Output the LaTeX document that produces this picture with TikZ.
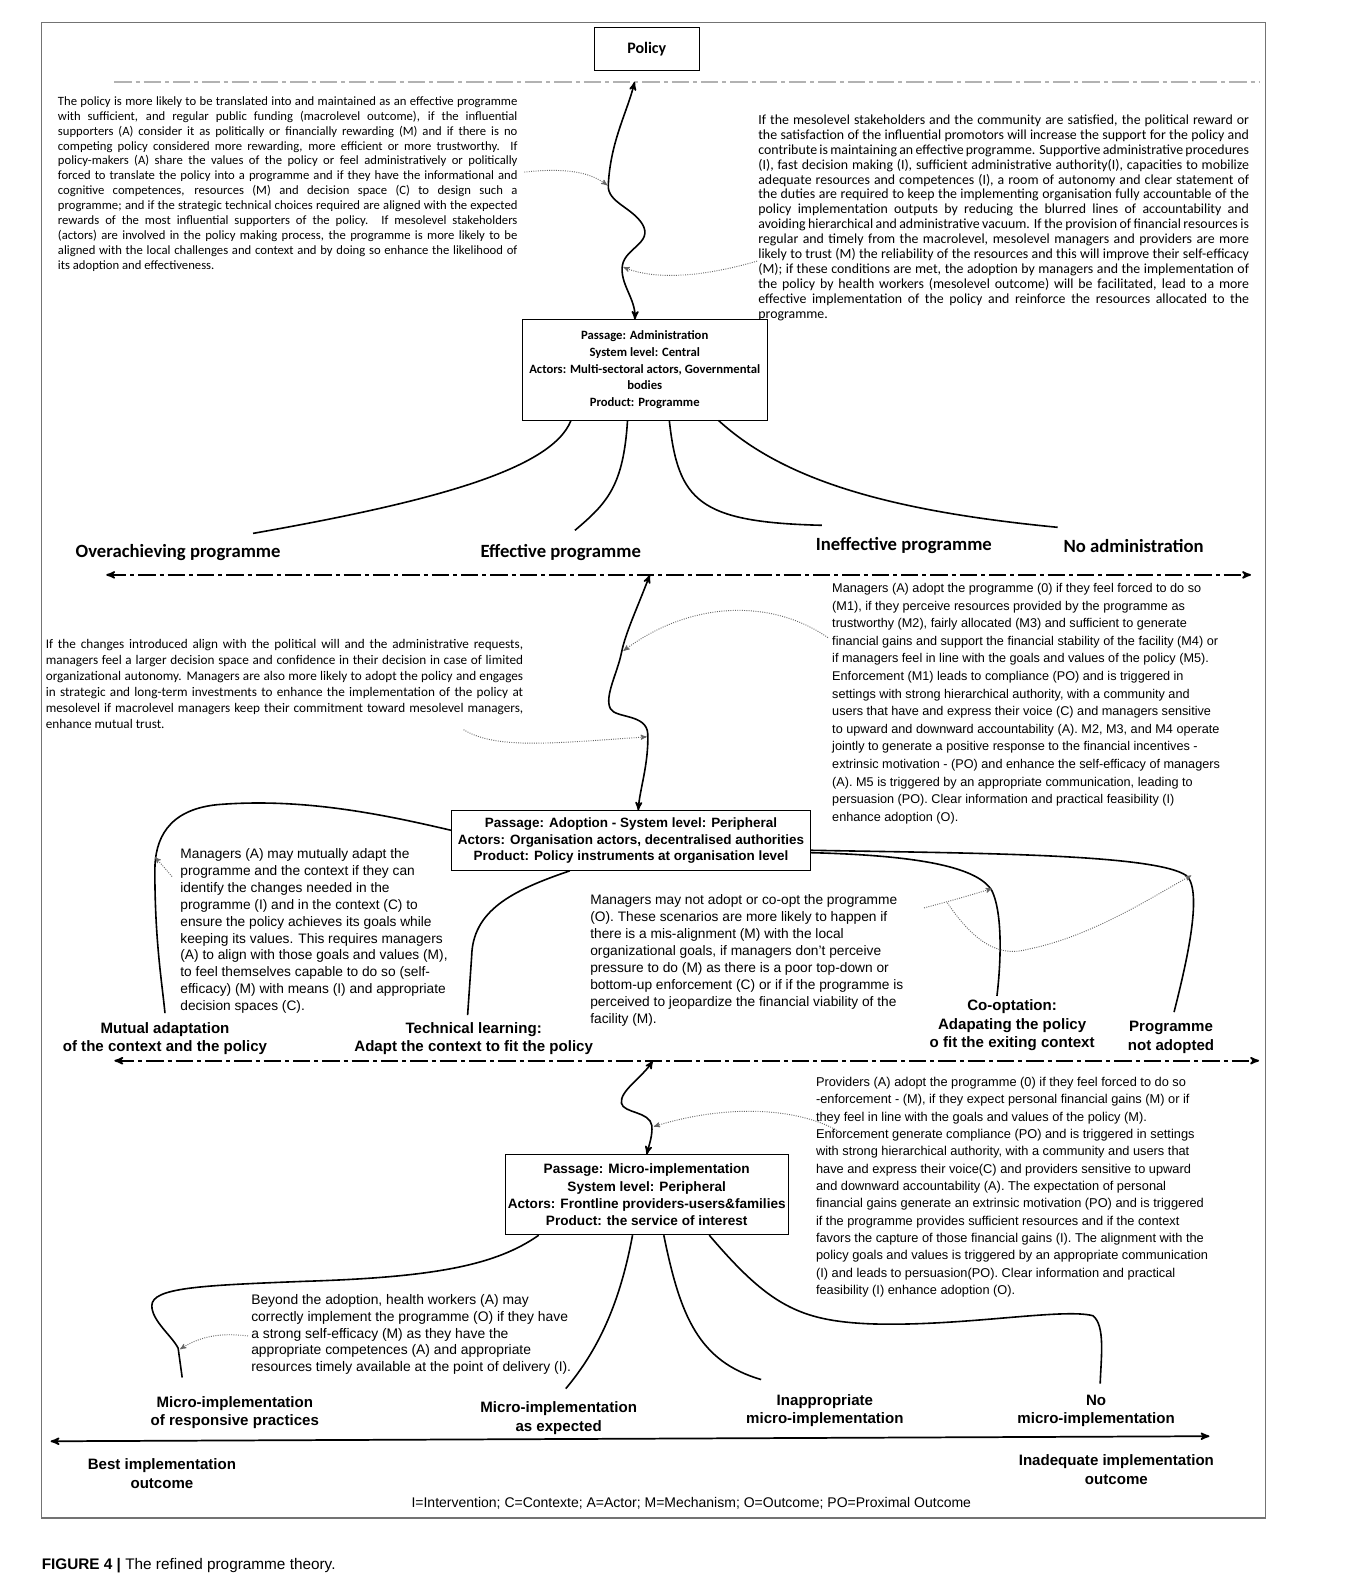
\documentclass[tikz,border=0pt]{standalone}
\usepackage{fontspec}
\setmainfont{Carlito}
\setsansfont{Liberation Sans}
\usetikzlibrary{arrows,calc}
\tolerance=10000
\hyphenpenalty=10000
\exhyphenpenalty=10000

\begin{document}
\begin{tikzpicture}[x=0.759pt,y=-0.759pt,>=stealth',
  box node/.style={draw,line width=0.6pt,fill=white,align=center,inner sep=0pt},
  calibri box/.style={box node,font=\fontsize{9.5}{12.5}\selectfont\bfseries},
  arial box/.style={box node,font=\fontsize{10.1}{12.5}\selectfont\sffamily\bfseries},
  para node/.style={anchor=north west,inner sep=0pt,align=justify},
  note node/.style={anchor=north west,inner sep=0pt,align=left},
  top outcome/.style={inner sep=0pt,font=\fontsize{14}{16}\selectfont\bfseries},
  outcome node/.style={inner sep=0pt,align=center,font=\fontsize{11.3}{13.7}\selectfont\sffamily\bfseries},
  main link/.style={line width=1.2pt},
  dotted link/.style={->,black!60,densely dotted,line width=0.7pt},
  axis line/.style={<->,line width=1.3pt,dash pattern=on 13pt off 3pt on 3pt off 3pt}]

  \fill[white] (0,0) rectangle (1341,1568);
  \draw[black!55,line width=0.8pt] (41,22) rectangle (1250,1500);
  \draw[black!55,line width=1.6pt] (41,1500) -- (1250,1500);
  \node[anchor=west,inner sep=0pt,font=\fontsize{11.5}{13}\selectfont\sffamily] (caption) at (41,1547)
    {\textbf{FIGURE 4 |} The refined programme theory.};

  % macro level
  \node[calibri box,minimum width=78.9pt,minimum height=32.6pt,font=\fontsize{12}{14}\selectfont\bfseries] (policy) at (639,48.5) {Policy};
  \coordinate (l1 west) at (113,81);
  \coordinate (l1 east) at (1245,81);
  \coordinate (policy line) at (627,81);
  \draw[black!30,line width=1.5pt,dash pattern=on 13pt off 3pt on 3pt off 3pt] (l1 west) -- (l1 east);

  \node[para node,text width=344.6pt,font=\fontsize{9.5}{11.2}\selectfont] (macro text) at (57,95) {The policy is more likely to be translated into and maintained as an effective programme\linebreak
with sufficient, and regular public funding (macrolevel outcome), if the influential\linebreak
supporters (A) consider it as politically or financially rewarding (M) and if there is no\linebreak
competing policy considered more rewarding, more efficient or more trustworthy. If\linebreak
policy-makers (A) share the values of the policy or feel administratively or politically\linebreak
forced to translate the policy into a programme and if they have the informational and\linebreak
cognitive competences, resources (M) and decision space (C) to design such a\linebreak
programme; and if the strategic technical choices required are aligned with the expected\linebreak
rewards of the most influential supporters of the policy. If mesolevel stakeholders\linebreak
(actors) are involved in the policy making process, the programme is more likely to be\linebreak
aligned with the local challenges and context and by doing so enhance the likelihood of\linebreak
its adoption and effectiveness.};

  \node[para node,text width=368pt,font=\fontsize{10.4}{11.2}\selectfont] (support text) at (749,113) {If the mesolevel stakeholders and the community are satisfied, the political reward or\linebreak
the satisfaction of the influential promotors will increase the support for the policy and\linebreak
contribute is maintaining an effective programme. Supportive administrative procedures\linebreak
(I), fast decision making (I), sufficient administrative authority(I), capacities to mobilize\linebreak
adequate resources and competences (I), a room of autonomy and clear statement of\linebreak
the duties are required to keep the implementing organisation fully accountable of the\linebreak
policy implementation outputs by reducing the blurred lines of accountability and\linebreak
avoiding hierarchical and administrative vacuum. If the provision of financial resources is\linebreak
regular and timely from the macrolevel, mesolevel managers and providers are more\linebreak
likely to trust (M) the reliability of the resources and this will improve their self-efficacy\linebreak
(M); if these conditions are met, the adoption by managers and the implementation of\linebreak
the policy by health workers (mesolevel outcome) will be facilitated, lead to a more\linebreak
effective implementation of the policy and reinforce the resources allocated to the\linebreak
programme.};

  \node[calibri box,minimum width=183.7pt,minimum height=75.1pt] (admin) at (637,365.5)
    {Passage: Administration\\System level: Central\\Actors: Multi-sectoral actors, Governmental\\bodies\\Product: Programme};
  \coordinate (admin top) at ($(admin.north west)!0.46!(admin.north east)$);

  \draw[main link,<->] (policy line) .. controls (620,110) and (603,140) .. (601,183)
    .. controls (600,200) and (625,205) .. (635,222) .. controls (645,240) and (618,245) .. (615,262)
    .. controls (612,280) and (628,295) .. (admin top);
  \coordinate (macro out) at (518,170);
  \coordinate (support out) at (748,258);
  \draw[dotted link] (macro out) .. controls (565,165) and (585,172) .. (600,183);
  \draw[dotted link] (support out) .. controls (700,272) and (650,278) .. (616,264);

  \node[top outcome] (over) at (176,546) {Overachieving programme};
  \node[top outcome] (effective) at (554,546) {Effective programme};
  \node[top outcome] (ineffective) at (893,539) {Ineffective programme};
  \node[top outcome] (no admin) at (1120,539) {No administration};
  \coordinate (over end) at (250,527);
  \coordinate (effective end) at (568,524);
  \coordinate (ineffective end) at (812,519);
  \coordinate (no admin end) at (1045,521);
  \draw[main link] ($(admin.south west)!0.2!(admin.south east)$) .. controls (545,465) and (420,497) .. (over end);
  \draw[main link] ($(admin.south west)!0.43!(admin.south east)$) .. controls (616,480) and (600,497) .. (effective end);
  \draw[main link] ($(admin.south west)!0.6!(admin.south east)$) .. controls (670,495) and (690,516) .. (ineffective end);
  \draw[main link] ($(admin.south west)!0.8!(admin.south east)$) .. controls (775,475) and (880,505) .. (no admin end);

  % meso level
  \coordinate (l2 west) at (105,568);
  \coordinate (l2 east) at (1236,568);
  \coordinate (l2 mid) at (642,568);
  \draw[axis line] (l2 west) -- (l2 east);

  \node[para node,text width=358pt,font=\fontsize{9.9}{12}\selectfont] (meso text) at (45,631) {If the changes introduced align with the political will and the administrative requests,\linebreak
managers feel a larger decision space and confidence in their decision in case of limited\linebreak
organizational autonomy. Managers are also more likely to adopt the policy and engages\linebreak
in strategic and long-term investments to enhance the implementation of the policy at\linebreak
mesolevel if macrolevel managers keep their commitment toward mesolevel managers,\linebreak
enhance mutual trust.};

  \node[note node,font=\fontsize{9.5}{13.2}\selectfont\sffamily] (adopt text) at (822,576) {Managers (A) adopt the programme (0) if they feel forced to do so\\
(M1), if they perceive resources provided by the programme as\\
trustworthy (M2), fairly allocated (M3) and sufficient to generate\\
financial gains and support the financial stability of the facility (M4) or\\
if managers feel in line with the goals and values of the policy (M5).\\
Enforcement (M1) leads to compliance (PO) and is triggered in\\
settings with strong hierarchical authority, with a community and\\
users that have and express their voice (C) and managers sensitive\\
to upward and downward accountability (A). M2, M3, and M4 operate\\
jointly to generate a positive response to the financial incentives -\\
extrinsic motivation - (PO) and enhance the self-efficacy of managers\\
(A). M5 is triggered by an appropriate communication, leading to\\
persuasion (PO). Clear information and practical feasibility (I)\\
enhance adoption (O).};

  \node[arial box,minimum width=269.4pt,minimum height=44.8pt] (adopt) at (623.5,830.5)
    {Passage: Adoption - System level: Peripheral\\Actors: Organisation actors, decentralised authorities\\Product: Policy instruments at organisation level};
  \coordinate (adopt top) at ($(adopt.north west)!0.52!(adopt.north east)$);

  \draw[main link,<->] (l2 mid) .. controls (630,600) and (618,625) .. (614,645)
    .. controls (610,665) and (597,688) .. (603,700) .. controls (608,710) and (639,705) .. (640,725)
    .. controls (641,755) and (632,780) .. (adopt top);
  \coordinate (meso out) at (458,721);
  \coordinate (adopt out) at (818,630);
  \draw[dotted link] (meso out) .. controls (490,740) and (540,735) .. (639,728);
  \draw[dotted link] (adopt out) .. controls (760,590) and (680,595) .. (616,643);

  \node[note node,font=\fontsize{10.3}{12.7}\selectfont\sffamily] (mutual text) at (178,838) {Managers (A) may mutually adapt the\\
programme and the context if they can\\
identify the changes needed in the\\
programme (I) and in the context (C) to\\
ensure the policy achieves its goals while\\
keeping its values. This requires managers\\
(A) to align with those goals and values (M),\\
to feel themselves capable to do so (self-\\
efficacy) (M) with means (I) and appropriate\\
decision spaces (C).};

  \node[note node,font=\fontsize{10.3}{12.7}\selectfont\sffamily] (reject text) at (583,884) {Managers may not adopt or co-opt the programme\\
(O). These scenarios are more likely to happen if\\
there is a mis-alignment (M) with the local\\
organizational goals, if managers don't perceive\\
pressure to do (M) as there is a poor top-down or\\
bottom-up enforcement (C) or if if the programme is\\
perceived to jeopardize the financial viability of the\\
facility (M).};

  \node[outcome node] (mutual) at (163,1026) {Mutual adaptation\\of the context and the policy};
  \node[outcome node] (technical) at (468,1026) {Technical learning:\\Adapt the context to fit the policy};
  \node[outcome node] (cooption) at (1000,1013) {Co-optation:\\Adapating the policy\\o fit the exiting context};
  \node[outcome node] (not adopted) at (1157,1025) {Programme\\not adopted};
  \coordinate (mutual end) at (163,1001);
  \coordinate (technical end) at (462,1003);
  \coordinate (cooption end) at (985,984);
  \coordinate (not adopted end) at (1160,1000);

  \draw[main link] ($(adopt.north west)!0.33!(adopt.south west)$) .. controls (380,805) and (300,788) .. (215,795)
    .. controls (165,800) and (153,830) .. (153,860) .. controls (153,930) and (160,970) .. (mutual end);
  \draw[main link] ($(adopt.south west)!0.33!(adopt.south east)$) .. controls (505,880) and (467,900) .. (466,945) -- (technical end);
  \draw[main link] ($(adopt.north east)!0.7!(adopt.south east)$) .. controls (900,845) and (965,855) .. (980,880)
    .. controls (992,905) and (988,960) .. (cooption end);
  \draw[main link] ($(adopt.north east)!0.66!(adopt.south east)$) .. controls (950,843) and (1140,843) .. (1172,865)
    .. controls (1190,880) and (1170,960) .. (not adopted end);

  \coordinate (mutual out) at (170,866);
  \coordinate (reject out) at (913,897);
  \coordinate (reject fork) at (936,892);
  \draw[dotted link] (mutual out) .. controls (163,858) and (158,852) .. (153,847);
  \draw[dotted link] (reject out) .. controls (940,890) and (960,884) .. (980,878);
  \draw[dotted link] (reject fork) .. controls (965,935) and (990,945) .. (1015,938)
    .. controls (1080,925) and (1140,885) .. (1177,865);

  % micro level
  \coordinate (l3 west) at (113,1048);
  \coordinate (l3 east) at (1244,1048);
  \coordinate (l3 mid) at (645,1048);
  \draw[axis line] (l3 west) -- (l3 east);

  \node[arial box,minimum width=212.5pt,minimum height=60pt,font=\fontsize{10.2}{12.9}\selectfont\sffamily\bfseries] (micro) at (639,1180.5)
    {Passage: Micro-implementation\\System level: Peripheral\\Actors: Frontline providers-users\&families\\Product: the service of interest};
  \coordinate (micro top) at ($(micro.north west)!0.5!(micro.north east)$);

  \draw[main link,<->] (l3 mid) .. controls (635,1064) and (612,1078) .. (614,1090)
    .. controls (616,1100) and (642,1098) .. (644,1112) .. controls (645,1122) and (641,1132) .. (micro top);

  \node[note node,font=\fontsize{9.6}{13}\selectfont\sffamily] (provider text) at (806,1064) {Providers (A) adopt the programme (0) if they feel forced to do so\\
-enforcement - (M), if they expect personal financial gains (M) or if\\
they feel in line with the goals and values of the policy (M).\\
Enforcement generate compliance (PO) and is triggered in settings\\
with strong hierarchical authority, with a community and users that\\
have and express their voice(C) and providers sensitive to upward\\
and downward accountability (A). The expectation of personal\\
financial gains generate an extrinsic motivation (PO) and is triggered\\
if the programme provides sufficient resources and if the context\\
favors the capture of those financial gains (I). The alignment with the\\
policy goals and values is triggered by an appropriate communication\\
(I) and leads to persuasion(PO). Clear information and practical\\
feasibility (I) enhance adoption (O).};
  \coordinate (provider out) at (829,1118);
  \draw[dotted link] (provider out) .. controls (790,1095) and (720,1090) .. (646,1113);

  \node[note node,font=\fontsize{10.4}{12.5}\selectfont\sffamily] (worker text) at (248,1279) {Beyond the adoption, health workers (A) may\\
correctly implement the programme (O) if they have\\
a strong self-efficacy (M) as they have the\\
appropriate competences (A) and appropriate\\
resources timely available at the point of delivery (I).};

  \node[outcome node] (responsive) at (232,1396) {Micro-implementation\\of responsive practices};
  \node[outcome node] (expected) at (552,1401) {Micro-implementation\\as expected};
  \node[outcome node] (inappropriate) at (815,1394) {Inappropriate\\micro-implementation};
  \node[outcome node] (no micro) at (1083,1394) {No\\micro-implementation};
  \coordinate (responsive end) at (180,1361);
  \coordinate (expected end) at (559,1372);
  \coordinate (inappropriate end) at (752,1363);
  \coordinate (no micro end) at (1087,1367);

  \draw[main link] ($(micro.south west)!0.12!(micro.south east)$) .. controls (490,1250) and (430,1262) .. (300,1266)
    .. controls (200,1270) and (150,1272) .. (150,1290) .. controls (150,1305) and (170,1320) .. (176,1332) -- (responsive end);
  \draw[main link] ($(micro.south west)!0.45!(micro.south east)$) .. controls (612,1290) and (590,1335) .. (expected end);
  \draw[main link] ($(micro.south west)!0.56!(micro.south east)$) .. controls (672,1300) and (690,1345) .. (inappropriate end);
  \draw[main link] ($(micro.south west)!0.72!(micro.south east)$) .. controls (760,1290) and (790,1305) .. (860,1308)
    .. controls (950,1311) and (1050,1292) .. (1080,1300) .. controls (1092,1310) and (1088,1340) .. (no micro end);
  \coordinate (worker out) at (245,1320);
  \draw[dotted link] (worker out) .. controls (215,1316) and (195,1322) .. (178,1333);

  \coordinate (l4 west) at (50,1424);
  \coordinate (l4 east) at (1195,1419);
  \draw[<->,line width=1.3pt] (l4 west) -- (l4 east);
  \node[outcome node] (best) at (160,1456) {Best implementation\\outcome};
  \node[outcome node] (inadequate) at (1103,1452) {Inadequate implementation\\outcome};
  \node[inner sep=0pt,font=\fontsize{10.5}{12}\selectfont\sffamily] (legend) at (683,1485)
    {I=Intervention; C=Contexte; A=Actor; M=Mechanism; O=Outcome; PO=Proximal Outcome};
\end{tikzpicture}
\end{document}
